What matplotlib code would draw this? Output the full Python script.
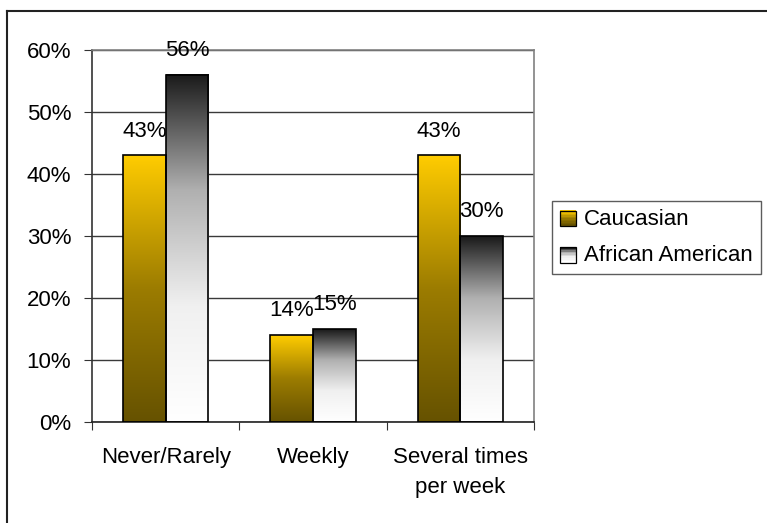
import numpy as np
import matplotlib
matplotlib.use('Agg')
import matplotlib.pyplot as plt
from matplotlib.colors import LinearSegmentedColormap
from matplotlib.legend_handler import HandlerBase
from matplotlib.patches import Rectangle, Patch
from matplotlib.lines import Line2D

plt.rcParams['font.family'] = ['Liberation Sans', 'DejaVu Sans']

# Data
categories = ['Never/Rarely', 'Weekly', 'Several times\nper week']
series_names = ['Caucasian', 'African American']
caucasian = [43, 14, 43]
african_american = [56, 15, 30]

FS = 16

# Gradient colours (bottom -> top)
YELLOW_CMAP = LinearSegmentedColormap.from_list('yel', ['#665200', '#9c7c00', '#ffcc00'])
GREY_CMAP = LinearSegmentedColormap.from_list('gry', ['#ffffff', '#f0f0f0', '#b0b0b0', '#1a1a1a'])
cmaps = [YELLOW_CMAP, GREY_CMAP]


class GradientHandler(HandlerBase):
    def __init__(self, cmap, **kw):
        super().__init__(**kw)
        self.cmap = cmap

    def create_artists(self, legend, orig_handle, xdescent, ydescent,
                       width, height, fontsize, trans):
        size = 11
        x0 = -xdescent + (width - size) / 2
        y0 = -ydescent + (height - size) / 2 - 1
        n = 10
        arts = []
        for i in range(n):
            c = self.cmap(i / (n - 1))
            arts.append(Rectangle((x0, y0 + size * i / n), size, size / n + 0.3,
                                  facecolor=c, edgecolor='none', transform=trans))
        arts.append(Rectangle((x0, y0), size, size, facecolor='none',
                              edgecolor='black', lw=0.9, transform=trans))
        return arts


fig = plt.figure(figsize=(7.67, 5.23), dpi=100)
ax = fig.add_axes([92 / 767, 101 / 523, 442 / 767, 372 / 523])

x = np.arange(len(categories))
width = 0.29
grad = np.linspace(0, 1, 256).reshape(-1, 1)

handles = []
for k, (vals, cmap) in enumerate(zip([caucasian, african_american], cmaps)):
    offs = (k - 0.5) * width
    bars = ax.bar(x + offs, vals, width, facecolor='none', edgecolor='black',
                  linewidth=1.2, zorder=3)
    for b in bars:
        ax.imshow(grad, cmap=cmap, origin='lower', aspect='auto',
                  extent=(b.get_x(), b.get_x() + b.get_width(), 0, b.get_height()),
                  zorder=2, interpolation='bilinear')
        ax.annotate(f'{b.get_height():.0f}%',
                    (b.get_x() + b.get_width() / 2, b.get_height()),
                    xytext=(0, 10), textcoords='offset points',
                    ha='center', va='bottom', fontsize=FS, zorder=4,
                    annotation_clip=False)
    handles.append(Patch(label=series_names[k]))

ax.set_xlim(-0.5, 2.5)
ax.set_ylim(0, 60)
ax.set_yticks(np.arange(0, 61, 10))
ax.set_yticklabels([f'{v}%' for v in range(0, 61, 10)], fontsize=FS)
ax.yaxis.grid(True, color='#3a3a3a', linewidth=1)
ax.set_axisbelow(True)

ax.set_xticks([-0.5, 0.5, 1.5, 2.5])
ax.set_xticklabels([])
ax.set_xticks(x, minor=True)
ax.set_xticklabels(categories, minor=True, fontsize=FS, linespacing=1.55)
ax.tick_params(axis='x', which='minor', length=0, pad=18)
ax.tick_params(axis='x', which='major', length=6, direction='out', color='#333333')
ax.tick_params(axis='y', length=6, direction='out', color='#333333', pad=9)

ax.spines['left'].set_color('#333333')
ax.spines['bottom'].set_color('#222222')
ax.spines['top'].set_color('#808080')
ax.spines['right'].set_color('#808080')
for s in ax.spines.values():
    s.set_linewidth(1.2)

leg = fig.legend(handles=handles, loc='upper left',
                 bbox_to_anchor=(552 / 767, 1 - 201 / 523), fontsize=FS,
                 handler_map={handles[0]: GradientHandler(YELLOW_CMAP),
                              handles[1]: GradientHandler(GREY_CMAP)},
                 frameon=True, fancybox=False, borderpad=0.35, labelspacing=0.7,
                 handlelength=0.75, handletextpad=0.35, borderaxespad=0)
leg.get_frame().set_edgecolor('#333333')
leg.get_frame().set_linewidth(1)

# Outer chart border (left and top edges visible)
fig.add_artist(Line2D([7 / 767, 7 / 767], [0, 1 - 11 / 523], transform=fig.transFigure,
                      color='#222222', lw=1.5))
fig.add_artist(Line2D([7 / 767, 1], [1 - 11 / 523, 1 - 11 / 523], transform=fig.transFigure,
                      color='#222222', lw=1.5))

fig.savefig('out.png', dpi=100, facecolor='white')
